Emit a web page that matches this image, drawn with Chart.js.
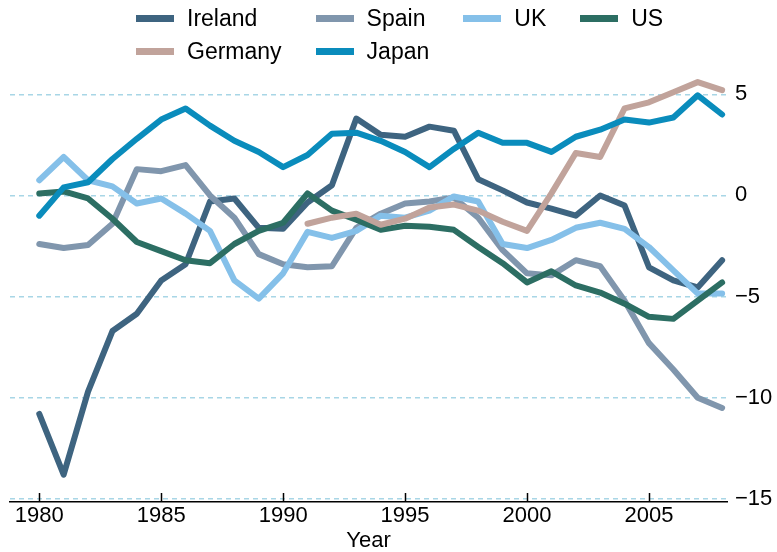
<!DOCTYPE html>
<html>
<head>
<meta charset="utf-8">
<script src="https://cdn.jsdelivr.net/npm/chart.js@4/dist/chart.umd.min.js"></script>
<style>
    body { margin: 0; background: #fff; }
    #wrap { position: relative; width: 777px; height: 552px; }
    #legend {
        position: absolute; left: 136px; top: 2px;
        display: grid; grid-template-columns: repeat(4, auto); column-gap: 34px;
        font-family: "Liberation Sans", Arial, sans-serif; font-size: 23px; color: #000;
    }
    .item { display: flex; align-items: center; height: 33px; }
    .sw { width: 38px; height: 7px; margin-right: 13px; }
</style>
</head>
<body>
<div id="wrap">
    <canvas id="chart" width="777" height="552"></canvas>
    <div id="legend"></div>
</div>
<script>
const years = [1980, 1981, 1982, 1983, 1984, 1985, 1986, 1987, 1988, 1989,
    1990, 1991, 1992, 1993, 1994, 1995, 1996, 1997, 1998, 1999,
    2000, 2001, 2002, 2003, 2004, 2005, 2006, 2007, 2008];

const ireland = [-10.8, -13.8, -9.7, -6.7, -5.85, -4.2, -3.4, -0.3, -0.15, -1.6,
    -1.65, -0.35, 0.5, 3.8, 3.0, 2.9, 3.4, 3.2, 0.8, 0.25,
    -0.35, -0.65, -1.0, 0.0, -0.5, -3.55, -4.2, -4.55, -3.2];
const spain = [-2.4, -2.6, -2.45, -1.4, 1.3, 1.2, 1.5, 0.0, -1.1, -2.9,
    -3.4, -3.55, -3.5, -1.6, -0.9, -0.4, -0.3, -0.1, -1.1, -2.7,
    -3.85, -3.95, -3.2, -3.5, -5.2, -7.3, -8.6, -10.0, -10.5];
const uk = [0.75, 1.9, 0.75, 0.45, -0.4, -0.15, -0.9, -1.75, -4.2, -5.1,
    -3.85, -1.8, -2.1, -1.75, -1.0, -1.1, -0.75, -0.05, -0.3, -2.4,
    -2.6, -2.2, -1.6, -1.35, -1.65, -2.55, -3.7, -4.85, -4.85];
const us = [0.1, 0.2, -0.15, -1.15, -2.3, -2.75, -3.2, -3.35, -2.4, -1.75,
    -1.35, 0.1, -0.75, -1.2, -1.7, -1.5, -1.55, -1.7, -2.55, -3.35,
    -4.3, -3.75, -4.45, -4.8, -5.35, -6.0, -6.1, -5.2, -4.3];
const germany = [null, null, null, null, null, null, null, null, null, null,
    null, -1.4, -1.1, -0.9, -1.45, -1.15, -0.6, -0.45, -0.75, -1.3,
    -1.75, 0.1, 2.1, 1.9, 4.3, 4.6, 5.1, 5.6, 5.2];
const japan = [-1.0, 0.4, 0.65, 1.8, 2.8, 3.75, 4.3, 3.45, 2.7, 2.15,
    1.4, 2.0, 3.05, 3.1, 2.7, 2.15, 1.4, 2.3, 3.1, 2.6,
    2.6, 2.15, 2.9, 3.25, 3.75, 3.6, 3.85, 4.95, 4.0];

const seriesNames = ['Ireland', 'Spain', 'UK', 'US', 'Germany', 'Japan'];
const seriesData = [ireland, spain, uk, us, germany, japan];
const seriesColors = ['#3e6480', '#8096ad', '#85c0e9', '#2c6e63', '#c1a39b', '#0a8cbc'];

const xTicks = [1980, 1985, 1990, 1995, 2000, 2005];
const yTicks = [-15, -10, -5, 0, 5];

Chart.defaults.font.family = '"Liberation Sans", Arial, sans-serif';
Chart.defaults.color = '#000';

// legend in html, 4 columns like the original
const legend = document.getElementById('legend');
seriesNames.forEach((name, i) => {
    const item = document.createElement('div');
    item.className = 'item';
    item.innerHTML = '<span class="sw" style="background:' + seriesColors[i] + '"></span>' + name;
    legend.appendChild(item);
});

// small tick marks pointing up into the plot
const innerTicks = {
    id: 'innerTicks',
    beforeDatasetsDraw(chart) {
        const ctx = chart.ctx;
        const x = chart.scales.x;
        const b = chart.chartArea.bottom;
        ctx.save();
        ctx.strokeStyle = '#000';
        ctx.lineWidth = 1.5;
        xTicks.forEach(v => {
            const px = Math.round(x.getPixelForValue(v)) + 0.5;
            ctx.beginPath();
            ctx.moveTo(px, b);
            ctx.lineTo(px, b - 9);
            ctx.stroke();
        });
        ctx.restore();
    }
};

const datasets = seriesNames.map((name, i) => ({
    label: name,
    data: years.map((yr, j) => ({ x: yr, y: seriesData[i][j] })),
    borderColor: seriesColors[i],
    backgroundColor: seriesColors[i],
    borderWidth: 6,
    borderCapStyle: 'round',
    borderJoinStyle: 'round',
    pointRadius: 0,
    tension: 0,
    spanGaps: false,
    order: seriesNames.length - i
}));

new Chart(document.getElementById('chart'), {
    type: 'line',
    data: { datasets: datasets },
    options: {
        responsive: false,
        animation: false,
        devicePixelRatio: 1,
        layout: { padding: { top: 72, left: 10, right: 0, bottom: 0 } },
        plugins: { legend: { display: false }, tooltip: { enabled: false } },
        scales: {
            x: {
                type: 'linear',
                min: 1978.8,
                max: 2008.2,
                afterBuildTicks: s => { s.ticks = xTicks.map(v => ({ value: v })); },
                afterFit: s => { s.height = 50; },
                grid: { display: true, drawOnChartArea: false, drawTicks: false },
                border: { display: true, color: '#000', width: 1.5 },
                ticks: { padding: 1, font: { size: 22 }, callback: v => String(v) },
                title: { display: true, text: 'Year', font: { size: 22, lineHeight: 1 }, padding: 0 }
            },
            y: {
                position: 'right',
                min: -15.15,
                max: 6.1,
                afterBuildTicks: s => { s.ticks = yTicks.map(v => ({ value: v })); },
                afterFit: s => { s.width = 50; },
                grid: { color: '#a8d6e6', lineWidth: 1.5, drawTicks: false },
                border: { display: false, dash: [5, 4] },
                ticks: {
                    padding: 8,
                    font: { size: 22 },
                    callback: v => (v < 0 ? '\u2212' + Math.abs(v) : String(v))
                }
            }
        }
    },
    plugins: [innerTicks]
});
</script>
</body>
</html>
